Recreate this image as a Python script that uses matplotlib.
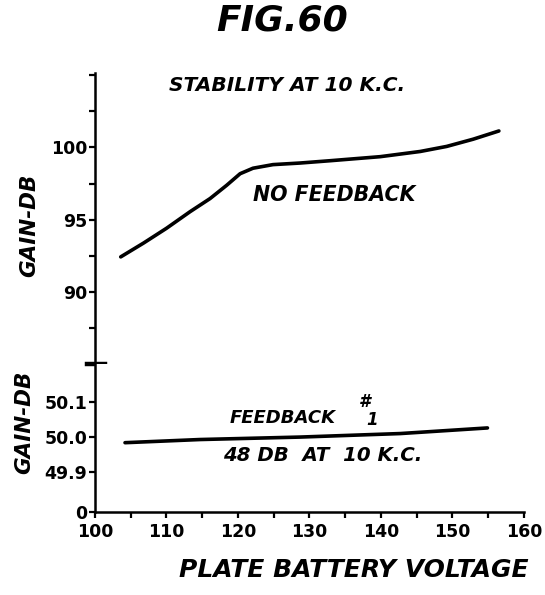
import numpy as np
import matplotlib
matplotlib.use("Agg")
import matplotlib.pyplot as plt

# curva sem realimentacao (parte de cima)
volt_nofb = [103.6, 106.8, 110.0, 113.3, 116.1, 118.4, 120.3, 122.1, 124.9,
             128.7, 132.9, 139.9, 145.5, 149.2, 152.9, 156.5]
gain_nofb = [92.42, 93.38, 94.40, 95.55, 96.46, 97.37, 98.18, 98.56, 98.81,
             98.92, 99.08, 99.36, 99.72, 100.07, 100.57, 101.14]

# curva com realimentacao (parte de baixo)
volt_fb = [104.2, 114.7, 128.7, 142.7, 154.9]
gain_fb = [49.984, 49.993, 50.0, 50.010, 50.026]

upper_ticks = [90, 95, 100]
upper_labels = ["90", "95", "100"]
lower_ticks = [49.788, 49.9, 50.0, 50.1]
lower_labels = ["0", "49.9", "50.0", "50.1"]
x_ticks = [100, 110, 120, 130, 140, 150, 160]
x_labels = ["100", "110", "120", "130", "140", "150", "160"]

fig = plt.figure(figsize=(5.45, 5.95), dpi=100)
ax1 = fig.add_axes([0.1743, 0.3882, 0.787, 0.489])
ax2 = fig.add_axes([0.1743, 0.1403, 0.787, 0.2479])

lw = 2.6
bold = dict(fontweight="bold", family="DejaVu Sans")

# eixo de cima
ax1.plot(volt_nofb, gain_nofb, color="black", lw=lw, solid_capstyle="round")
ax1.set_xlim(100, 160)
ax1.set_ylim(85, 105.15)
for s in ["top", "right", "bottom"]:
    ax1.spines[s].set_visible(False)
ax1.spines["left"].set_linewidth(1.8)
ax1.set_xticks([])
ax1.set_yticks(upper_ticks)
ax1.set_yticklabels(upper_labels, fontsize=12.5, **bold)
ax1.set_yticks([87.5, 92.5, 97.5, 102.5, 105], minor=True)
ax1.tick_params(axis="y", which="both", length=4.5, width=1.6, pad=1)
# marca de quebra do eixo
ax1.plot([-0.019, 0.023], [0, 0], transform=ax1.transAxes, color="black",
         lw=3.2, clip_on=False)

ax1.text(126.8, 104.3, "STABILITY AT 10 K.C.", fontsize=14.5, style="italic",
         ha="center", va="center", **bold)
ax1.text(133.4, 96.73, "NO FEEDBACK", fontsize=14.8, style="italic",
         ha="center", va="center", **bold)
fig.text(0.054, 0.622, "GAIN-DB", rotation=90, fontsize=15.5, style="italic",
         ha="center", va="center", **bold)

# eixo de baixo
ax2.plot(volt_fb, gain_fb, color="black", lw=lw, solid_capstyle="round")
ax2.set_xlim(100, 160)
ax2.set_ylim(49.788, 50.208)
for s in ["top", "right"]:
    ax2.spines[s].set_visible(False)
ax2.spines["left"].set_linewidth(1.8)
ax2.spines["bottom"].set_linewidth(1.8)
ax2.set_yticks(lower_ticks)
ax2.set_yticklabels(lower_labels, fontsize=12.5, **bold)
ax2.set_xticks(x_ticks)
ax2.set_xticklabels(x_labels, fontsize=12.5, **bold)
ax2.set_xticks(np.arange(105, 160, 10), minor=True)
ax2.tick_params(axis="both", which="both", length=4.5, width=1.6)
ax2.tick_params(axis="y", pad=1)
ax2.tick_params(axis="x", which="both", pad=4)

ax2.text(126.3, 50.053, "FEEDBACK", fontsize=13, style="italic",
         ha="center", va="center", **bold)
ax2.text(137.8, 50.1, "#", fontsize=12, style="italic", ha="center",
         va="center", **bold)
ax2.text(138.8, 50.048, "1", fontsize=12, style="italic", ha="center",
         va="center", **bold)
ax2.text(131.8, 49.948, "48 DB  AT  10 K.C.", fontsize=14.2, style="italic",
         ha="center", va="center", **bold)
fig.text(0.044, 0.291, "GAIN-DB", rotation=90, fontsize=15.5, style="italic",
         ha="center", va="center", **bold)

fig.text(0.65, 0.042, "PLATE BATTERY VOLTAGE", fontsize=18, style="italic",
         ha="center", va="center", **bold)
fig.text(0.518, 0.966, "FIG.60", fontsize=26, style="italic", ha="center",
         va="center", fontweight="bold", family="DejaVu Sans")

fig.savefig("out.png", dpi=100)
